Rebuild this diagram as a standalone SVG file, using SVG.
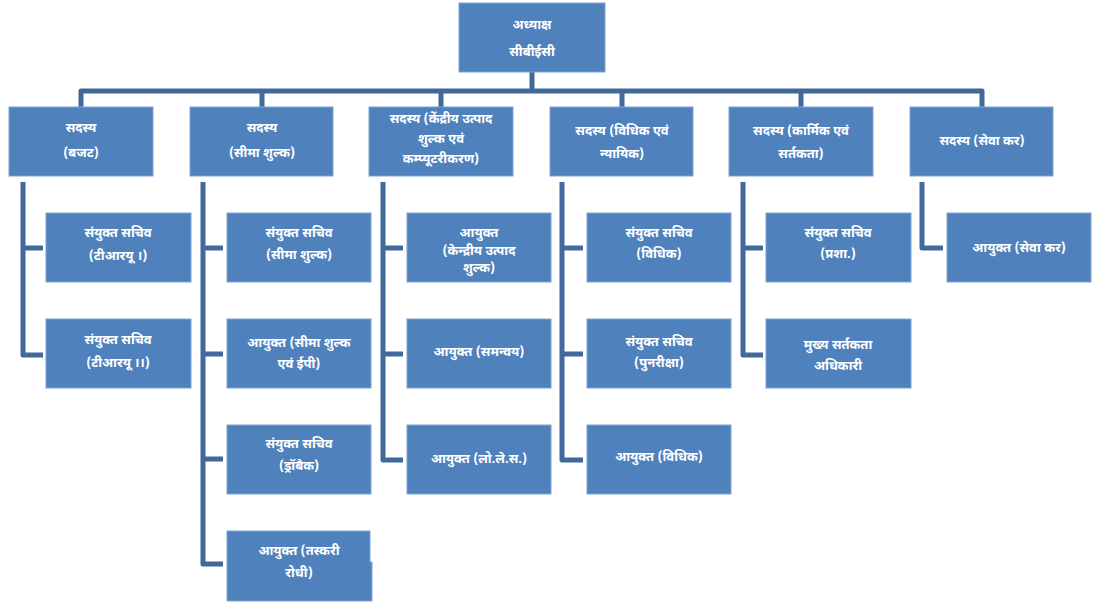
<svg xmlns="http://www.w3.org/2000/svg" width="1095" height="602" viewBox="0 0 1095 602">
<style>
.b{fill:#4f81bd;stroke:#7fa3cf;stroke-width:1}
.t{fill:#fff;font-family:"Noto Sans Devanagari","Noto Sans","Lohit Devanagari",sans-serif;font-weight:bold;font-size:13px;text-anchor:middle;dominant-baseline:central}
.c{fill:none;stroke:#41699b;stroke-width:5;stroke-linejoin:round}
.h{fill:none;stroke:#b9cce4;stroke-width:7;stroke-linejoin:round}
</style>
<rect width="1095" height="602" fill="#fff"/>
<g id="connectors">
<path class="c" d="M532 72V91M81 107V91H982V107M262 91V107M441 91V107M622 91V107M801 91V107"/>
<path class="c" d="M23 182V355H43M23 248H43"/>
<path class="c" d="M203 182V564H223M203 248H223M203 354H223M203 459H223"/>
<path class="c" d="M383 182V460H403M383 248H403M383 354H403"/>
<path class="c" d="M562 182V460H583M562 248H583M562 354H583"/>
<path class="c" d="M743 182V355H763M743 248H763"/>
<path class="c" d="M922 182V248H943"/>
</g>
<g id="n0"><rect class="b" x="459" y="3" width="146" height="69"/><text class="t" x="532" y="25">अध्याक्ष</text><text class="t" x="532" y="52">सीबीईसी</text></g>
<g id="m1"><rect class="b" x="9" y="107" width="144" height="69"/><text class="t" x="81" y="128">सदस्य</text><text class="t" x="81" y="153">(बजट)</text></g>
<g id="m2"><rect class="b" x="190" y="107" width="143" height="69"/><text class="t" x="262" y="128">सदस्य</text><text class="t" x="262" y="153">(सीमा शुल्क)</text></g>
<g id="m3"><rect class="b" x="369" y="107" width="144" height="69"/><text class="t" x="441" y="119">सदस्य (केंद्रीय उत्पाद</text><text class="t" x="441" y="139">शुल्क एवं</text><text class="t" x="441" y="159">कम्प्यूटरीकरण)</text></g>
<g id="m4"><rect class="b" x="550" y="107" width="143" height="69"/><text class="t" x="622" y="131">सदस्य (विधिक एवं</text><text class="t" x="622" y="154">न्यायिक)</text></g>
<g id="m5"><rect class="b" x="729" y="107" width="144" height="69"/><text class="t" x="801" y="131">सदस्य (कार्मिक एवं</text><text class="t" x="801" y="154">सर्तकता)</text></g>
<g id="m6"><rect class="b" x="910" y="107" width="143" height="69"/><text class="t" x="982" y="141">सदस्य (सेवा कर)</text></g>
<g id="c11"><rect class="b" x="46" y="213" width="145" height="69"/><text class="t" x="118" y="233">संयुक्त सचिव</text><text class="t" x="118" y="256">(टीआरयू ।)</text></g>
<g id="c12"><rect class="b" x="46" y="319" width="145" height="69"/><text class="t" x="118" y="340">संयुक्त सचिव</text><text class="t" x="118" y="363">(टीआरयू ।।)</text></g>
<g id="c21"><rect class="b" x="227" y="213" width="144" height="69"/><text class="t" x="299" y="233">संयुक्त सचिव</text><text class="t" x="299" y="255">(सीमा शुल्क)</text></g>
<g id="c22"><rect class="b" x="227" y="319" width="144" height="69"/><text class="t" x="299" y="343">आयुक्त (सीमा शुल्क</text><text class="t" x="299" y="364">एवं ईपी)</text></g>
<g id="c23"><rect class="b" x="227" y="425" width="144" height="69"/><text class="t" x="299" y="444">संयुक्त सचिव</text><text class="t" x="299" y="466">(ड्रॉबैक)</text></g>
<g id="c24"><path class="b" d="M227 531H370V562H372V601H227Z"/><text class="t" x="299" y="551">आयुक्त (तस्करी</text><text class="t" x="299" y="573">रोधी)</text></g>
<g id="c31"><rect class="b" x="407" y="213" width="144" height="69"/><text class="t" x="479" y="233">आयुक्त</text><text class="t" x="479" y="251">(केन्द्रीय उत्पाद</text><text class="t" x="479" y="268">शुल्क)</text></g>
<g id="c32"><rect class="b" x="407" y="319" width="144" height="69"/><text class="t" x="479" y="352">आयुक्त (समन्वय)</text></g>
<g id="c33"><rect class="b" x="407" y="425" width="144" height="69"/><text class="t" x="479" y="459">आयुक्त (लो.ले.स.)</text></g>
<g id="c41"><rect class="b" x="587" y="213" width="144" height="69"/><text class="t" x="659" y="233">संयुक्त सचिव</text><text class="t" x="659" y="254">(विधिक)</text></g>
<g id="c42"><rect class="b" x="587" y="319" width="144" height="69"/><text class="t" x="659" y="342">संयुक्त सचिव</text><text class="t" x="659" y="363">(पुनरीक्षा)</text></g>
<g id="c43"><rect class="b" x="587" y="425" width="144" height="69"/><text class="t" x="659" y="457">आयुक्त (विधिक)</text></g>
<g id="c51"><rect class="b" x="766" y="213" width="145" height="69"/><text class="t" x="838" y="233">संयुक्त सचिव</text><text class="t" x="838" y="254">(प्रशा.)</text></g>
<g id="c52"><rect class="b" x="766" y="319" width="145" height="69"/><text class="t" x="838" y="345">मुख्य सर्तकता</text><text class="t" x="838" y="366">अधिकारी</text></g>
<g id="c61"><rect class="b" x="947" y="213" width="144" height="69"/><text class="t" x="1019" y="248">आयुक्त (सेवा कर)</text></g>
</svg>
